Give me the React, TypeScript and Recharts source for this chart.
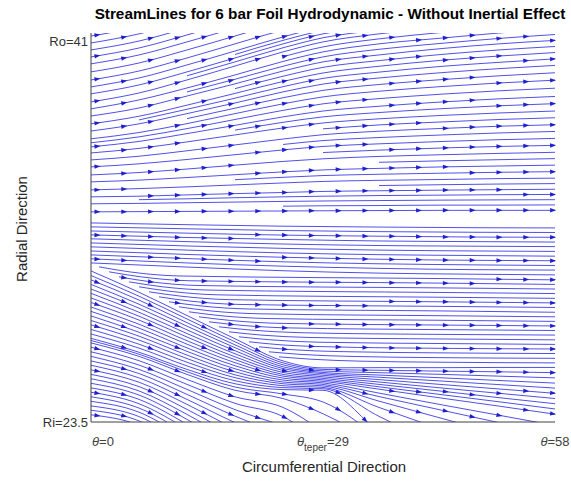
import { useEffect, useRef, useState } from "react";
import { Line, LineChart, XAxis, YAxis } from "recharts";

const W = 571;
const H = 482;
const FONT = "'Liberation Sans', Arial, Helvetica, sans-serif";
const LINE_BLUE = "#3d3de8";
const ARROW_BLUE = "#1f1fd0";

// axis limits (theta in deg, r between inner and outer radius)
const THETA_TICKS = [0, 29, 58];
const R_TICKS = [23.5, 41];
const R_DOMAIN: [number, number] = [23.5, 41.4];

// stations along theta shared by most stream families
const STATION_T = [0, 6, 12, 18, 24, 29, 36, 44, 51, 58];

// upper streamlines, seeded at theta = 0, rising toward Ro
const UPPER: (number | null)[][] = [
  [41.26, 41.68, 42.28, null, null, null, null, null, null, null],
  [40.94, 41.36, 41.95, 42.6, null, null, null, null, null, null],
  [40.62, 41.03, 41.63, 42.28, null, null, null, null, null, null],
  [40.3, 40.71, 41.31, 41.95, 42.6, null, null, null, null, null],
  [39.98, 40.39, 40.99, 41.63, 42.28, null, null, null, null, null],
  [39.61, 40.02, 40.62, 41.26, 41.91, 42.37, null, null, null, null],
  [39.24, 39.65, 40.25, 40.9, 41.54, 42.0, 42.37, null, null, null],
  [38.92, 39.33, 39.93, 40.57, 41.22, 41.68, 42.05, 42.37, null, null],
  [38.6, 39.01, 39.61, 40.25, 40.9, 41.36, 41.72, 42.05, 42.28, null],
  [38.23, 38.64, 39.24, 39.88, 40.53, 40.99, 41.36, 41.68, 41.91, 42.09],
  [37.91, 38.32, 38.87, 39.47, 40.09, 40.53, 40.9, 41.17, 41.4, 41.59],
  [37.58, 37.95, 38.5, 39.06, 39.65, 40.07, 40.39, 40.69, 40.9, 41.06],
  [37.22, 37.57, 38.08, 38.62, 39.17, 39.56, 39.87, 40.15, 40.34, 40.5],
  [36.89, 37.22, 37.69, 38.18, 38.69, 39.05, 39.33, 39.58, 39.76, 39.91],
  [36.53, 36.82, 37.23, 37.69, 38.14, 38.46, 38.72, 38.94, 39.1, 39.23],
  [36.16, 36.41, 36.77, 37.15, 37.54, 37.81, 38.03, 38.23, 38.37, 38.48],
  [35.88, 36.09, 36.39, 36.71, 37.03, 37.26, 37.45, 37.61, 37.72, 37.81],
  [35.56, 35.73, 35.98, 36.25, 36.52, 36.72, 36.88, 37.01, 37.11, 37.18],
  [35.24, 35.38, 35.58, 35.8, 36.02, 36.18, 36.3, 36.41, 36.49, 36.55],
  [34.87, 34.98, 35.14, 35.32, 35.49, 35.61, 35.72, 35.8, 35.86, 35.91],
  [34.55, 34.63, 34.75, 34.88, 35.01, 35.1, 35.17, 35.24, 35.28, 35.32],
  [34.18, 34.24, 34.32, 34.41, 34.5, 34.57, 34.62, 34.66, 34.7, 34.72],
  [33.86, 33.89, 33.95, 34.01, 34.06, 34.11, 34.14, 34.17, 34.19, 34.21],
  [33.54, 33.56, 33.59, 33.62, 33.65, 33.67, 33.69, 33.71, 33.72, 33.73],
  [33.17, 33.18, 33.19, 33.2, 33.21, 33.22, 33.23, 33.24, 33.24, 33.24],
];

// streamlines that start inside the upper region
const MIDFIELD: (number | null)[][] = [
  [null, null, null, 40.41, 41.06, 41.52, 41.89, 42.21, null, null],
  [null, null, 39.43, 40.07, 40.72, 41.18, 41.54, 41.87, 42.1, 42.25],
  [null, null, null, null, 40.31, 40.76, 41.13, 41.43, 41.66, 41.84],
  [null, null, 38.69, 39.27, 39.87, 40.3, 40.65, 40.93, 41.15, 41.33],
  [null, null, null, 38.84, 39.41, 39.82, 40.13, 40.42, 40.62, 40.78],
  [null, 37.4, 37.89, 38.4, 38.93, 39.31, 39.6, 39.87, 40.05, 40.21],
  [null, null, 37.46, 37.94, 38.42, 38.76, 39.03, 39.26, 39.43, 39.57],
  [36.35, 36.62, 37.0, 37.42, 37.84, 38.14, 38.38, 38.59, 38.74, 38.86],
  [null, null, null, 36.93, 37.29, 37.54, 37.74, 37.92, 38.05, 38.15],
  [null, null, null, null, null, 36.99, 37.17, 37.31, 37.42, 37.5],
  [null, null, null, null, 36.27, 36.45, 36.59, 36.71, 36.8, 36.87],
  [null, null, null, null, null, 35.9, 36.01, 36.11, 36.18, 36.23],
  [null, null, null, null, null, null, 35.45, 35.52, 35.57, 35.62],
  [null, null, null, 34.65, 34.76, 34.84, 34.9, 34.95, 34.99, 35.02],
  [null, null, null, null, null, null, 34.38, 34.42, 34.45, 34.47],
  [null, 33.73, 33.77, 33.82, 33.86, 33.89, 33.92, 33.94, 33.96, 33.97],
  [null, null, null, null, 33.43, 33.45, 33.46, 33.48, 33.48, 33.49],
];

// nearly flat lines just under the gap
const HORIZ_T = [0, 12, 24, 36, 48, 58];
const HORIZ: number[][] = [
  [32.66, 32.58, 32.51, 32.47, 32.44, 32.43],
  [32.48, 32.39, 32.31, 32.26, 32.23, 32.22],
  [32.29, 32.19, 32.1, 32.05, 32.01, 32.0],
  [32.11, 31.99, 31.9, 31.83, 31.8, 31.78],
  [31.93, 31.8, 31.69, 31.62, 31.59, 31.57],
  [31.74, 31.6, 31.49, 31.41, 31.37, 31.35],
  [31.56, 31.41, 31.28, 31.2, 31.16, 31.13],
  [31.37, 31.21, 31.08, 30.99, 30.94, 30.92],
  [31.19, 31.02, 30.87, 30.78, 30.73, 30.7],
  [31.01, 30.82, 30.67, 30.57, 30.51, 30.49],
  [30.82, 30.63, 30.46, 30.35, 30.3, 30.27],
];

// lines seeded along the diagonal separatrix, as [theta, r]
const DIAG: [number, number][][] = [
  [[1, 30.64], [5, 30.4], [11, 30.22], [44, 30.1], [58, 30.04]],
  [[2.25, 30.41], [6.25, 30.18], [12.25, 30.0], [44, 29.89], [58, 29.83]],
  [[3.5, 30.18], [7.5, 29.95], [13.5, 29.78], [44, 29.67], [58, 29.62]],
  [[4.75, 29.95], [8.75, 29.73], [14.75, 29.57], [44, 29.46], [58, 29.41]],
  [[6, 29.72], [10, 29.51], [16, 29.35], [44, 29.24], [58, 29.19]],
  [[7.25, 29.49], [11.25, 29.29], [17.25, 29.13], [44, 29.03], [58, 28.98]],
  [[8.5, 29.26], [12.5, 29.06], [18.5, 28.91], [44, 28.82], [58, 28.77]],
  [[9.75, 29.03], [13.75, 28.84], [19.75, 28.7], [44, 28.61], [58, 28.55]],
  [[11, 28.8], [15, 28.61], [21, 28.48], [44, 28.39], [58, 28.34]],
  [[12.25, 28.57], [16.25, 28.39], [22.25, 28.26], [44, 28.18], [58, 28.13]],
  [[13.5, 28.34], [17.5, 28.17], [23.5, 28.04], [44, 27.96], [58, 27.92]],
  [[14.75, 28.11], [18.75, 27.95], [24.75, 27.83], [44, 27.75], [58, 27.71]],
  [[16, 27.88], [20, 27.73], [26, 27.61], [44, 27.53], [58, 27.5]],
  [[17.25, 27.65], [21.25, 27.5], [27.25, 27.39], [44, 27.32], [58, 27.28]],
  [[18.5, 27.42], [22.5, 27.28], [28.5, 27.17], [44, 27.11], [58, 27.07]],
  [[19.75, 27.19], [23.75, 27.05], [29.75, 26.96], [44, 26.89], [58, 26.86]],
  [[21, 26.96], [25, 26.83], [31, 26.74], [44, 26.68], [58, 26.65]],
  [[22.25, 26.73], [26.25, 26.61], [32.25, 26.52], [44, 26.46], [58, 26.43]],
  [[23.5, 26.5], [27.5, 26.39], [33.5, 26.3], [44, 26.25], [58, 26.22]],
];

// lower lines squeezed near theta_teper, then fanning out toward Ri
const FAN: (number | null)[][] = [
  [30.45, 29.47, 28.4, 27.33, 26.31, 25.99, 26.0, 26.0, 26.01, 26.01],
  [30.24, 29.29, 28.24, 27.19, 26.22, 25.92, 25.88, 25.84, 25.81, 25.77],
  [30.04, 29.11, 28.07, 27.05, 26.13, 25.85, 25.77, 25.69, 25.61, 25.53],
  [29.83, 28.92, 27.91, 26.92, 26.04, 25.78, 25.66, 25.53, 25.41, 25.29],
  [29.62, 28.74, 27.74, 26.78, 25.96, 25.72, 25.56, 25.38, 25.22, 25.06],
  [29.42, 28.55, 27.57, 26.64, 25.87, 25.65, 25.45, 25.22, 25.02, 24.82],
  [29.21, 28.37, 27.41, 26.5, 25.78, 25.58, 25.34, 25.06, 24.82, 24.58],
  [29.0, 28.19, 27.24, 26.37, 25.69, 25.51, 25.23, 24.91, 24.62, 24.34],
  [28.79, 28.0, 27.08, 26.23, 25.61, 25.44, 25.12, 24.75, 24.43, 24.1],
  [28.59, 27.82, 26.91, 26.09, 25.52, 25.37, 25.01, 24.59, 24.23, 23.86],
  [28.38, 27.63, 26.75, 25.95, 25.43, 25.3, 24.83, 24.28, 23.81, 23.34],
  [28.17, 27.45, 26.58, 25.81, 25.34, 25.23, 24.67, 24.03, 23.47, 22.9],
  [27.97, 27.27, 26.42, 25.67, 25.26, 25.16, 24.46, 23.65, 22.95, 22.25],
  [27.76, 27.08, 26.25, 25.54, 25.17, 25.09, 24.17, 23.13, 22.21, null],
  [27.55, 26.9, 26.08, 25.4, 25.08, 25.03, 23.76, 22.31, null, null],
  [27.35, 26.71, 25.92, 25.26, 24.99, 24.96, 23.03, 20.82, null, null],
];

// arcs in the lower-left corner that leave through Ri
const ARCS: (number | null)[][] = [
  [27.25, 26.62, 25.81, 25.11, 24.79, 24.42, 22.74, null, null, null],
  [27.14, 26.52, 25.69, 24.96, 24.58, 23.88, 22.45, null, null, null],
  [26.94, 26.32, 25.46, 24.66, 24.17, 23.05, null, null, null, null],
  [26.73, 26.12, 25.23, 24.36, 23.75, 22.45, null, null, null, null],
  [26.52, 25.92, 25.0, 24.07, 23.34, null, null, null, null, null],
  [26.31, 25.73, 24.77, 23.77, 22.92, null, null, null, null, null],
  [26.11, 25.53, 24.54, 23.47, 22.54, null, null, null, null, null],
  [25.9, 25.33, 24.31, 23.17, null, null, null, null, null, null],
  [25.69, 25.13, 24.08, 22.86, null, null, null, null, null, null],
  [25.49, 24.93, 23.85, 22.57, null, null, null, null, null, null],
  [25.28, 24.74, 23.62, 22.27, null, null, null, null, null, null],
  [25.07, 24.54, 23.39, 21.99, null, null, null, null, null, null],
  [24.87, 24.34, 23.16, null, null, null, null, null, null, null],
  [24.66, 24.14, 22.93, null, null, null, null, null, null, null],
  [24.45, 23.95, 22.7, null, null, null, null, null, null, null],
  [24.24, 23.75, 22.47, null, null, null, null, null, null, null],
  [24.04, 23.55, 22.24, null, null, null, null, null, null, null],
  [23.83, 23.35, 22.04, null, null, null, null, null, null, null],
];

type Pt = { t: number; r: number };

function fromStations(ts: number[], rows: (number | null)[][]): Pt[][] {
  return rows.map((row) =>
    row.flatMap((r, i) => (r == null ? [] : [{ t: ts[i], r }]))
  );
}

function fromPairs(rows: [number, number][][]): Pt[][] {
  return rows.map((row) => row.map(([t, r]) => ({ t, r })));
}

const STREAMS: Pt[][] = [
  ...fromStations(STATION_T, UPPER),
  ...fromStations(STATION_T, MIDFIELD),
  ...fromStations(HORIZ_T, HORIZ),
  ...fromPairs(DIAG),
  ...fromStations(STATION_T, FAN),
  ...fromStations(STATION_T, ARCS),
];

// arrowhead grid (pixels), snapped onto the drawn streamlines
const PLOT_TOP = 33;
const PLOT_BOTTOM = 422;
const COL0 = 97;
const COL_STEP = 26.8;
const N_COLS = 18;
const ROW0 = 36;
const ROW_STEP = 22.3;
const N_ROWS = 18;

type Arrow = { x: number; y: number; a: number };
type Hit = { y: number; a: number; used: boolean };

function ThetaTick(props: any) {
  const { x, payload } = props;
  const v = payload.value;
  const base = 446;
  if (v === 29) {
    return (
      <text x={x} y={base} textAnchor="middle" fontSize={13} fill="#404040" fontFamily={FONT}>
        <tspan fontStyle="italic">θ</tspan>
        <tspan fontSize={10} dy={5}>teper</tspan>
        <tspan dy={-5}>=29</tspan>
      </text>
    );
  }
  return (
    <text
      x={v === 0 ? x + 1 : x}
      y={base}
      textAnchor={v === 0 ? "start" : "middle"}
      fontSize={13}
      fill="#404040"
      fontFamily={FONT}
    >
      <tspan fontStyle="italic">θ</tspan>
      <tspan>={v}</tspan>
    </text>
  );
}

function RadiusTick(props: any) {
  const { y, payload } = props;
  const label = payload.value === 41 ? "Ro=41" : "Ri=23.5";
  return (
    <text x={88} y={y + 4.5} textAnchor="end" fontSize={13} fill="#333" fontFamily={FONT}>
      {label}
    </text>
  );
}

export default function App() {
  const wrapRef = useRef<HTMLDivElement>(null);
  const [arrows, setArrows] = useState<Arrow[]>([]);

  useEffect(() => {
    let frame = 0;
    let tries = 0;
    const place = () => {
      const host = wrapRef.current;
      const paths = host
        ? Array.from(host.querySelectorAll<SVGPathElement>("path.recharts-line-curve"))
        : [];
      if (paths.length < STREAMS.length && tries++ < 300) {
        frame = requestAnimationFrame(place);
        return;
      }
      const cols = Array.from({ length: N_COLS }, (_, i) => COL0 + i * COL_STEP);
      const hits: Hit[][] = cols.map(() => []);
      paths.forEach((p) => {
        const len = p.getTotalLength();
        let prev = p.getPointAtLength(0);
        for (let s = 1.5; s < len + 1.5; s += 1.5) {
          const cur = p.getPointAtLength(Math.min(s, len));
          if (cur.x !== prev.x) {
            cols.forEach((cx, i) => {
              if ((prev.x - cx) * (cur.x - cx) <= 0) {
                const k = (cx - prev.x) / (cur.x - prev.x);
                const y = prev.y + k * (cur.y - prev.y);
                if (y > PLOT_TOP + 2 && y < PLOT_BOTTOM - 2) {
                  hits[i].push({ y, a: Math.atan2(cur.y - prev.y, cur.x - prev.x), used: false });
                }
              }
            });
          }
          prev = cur;
        }
      });
      const out: Arrow[] = [];
      cols.forEach((cx, i) => {
        for (let j = 0; j < N_ROWS; j++) {
          const ry = ROW0 + j * ROW_STEP;
          let best: Hit | null = null;
          for (const h of hits[i]) {
            if (h.used) continue;
            if (!best || Math.abs(h.y - ry) < Math.abs(best.y - ry)) best = h;
          }
          if (best && Math.abs(best.y - ry) < 10) {
            best.used = true;
            out.push({ x: cx, y: best.y, a: best.a });
          }
        }
      });
      setArrows(out);
    };
    frame = requestAnimationFrame(place);
    return () => cancelAnimationFrame(frame);
  }, []);

  return (
    <div
      ref={wrapRef}
      style={{
        position: "absolute",
        left: 0,
        top: 0,
        width: W,
        height: H,
        background: "#fff",
        fontFamily: FONT,
      }}
    >
      <LineChart width={W} height={H} margin={{ top: 33, right: 16, bottom: 0, left: 0 }}>
        <XAxis
          type="number"
          dataKey="t"
          domain={[0, 58]}
          ticks={THETA_TICKS}
          allowDataOverflow
          tick={ThetaTick}
          tickLine={false}
          axisLine={{ stroke: "#404040" }}
          height={60}
        />
        <YAxis
          type="number"
          domain={R_DOMAIN}
          ticks={R_TICKS}
          allowDataOverflow
          tick={RadiusTick}
          tickLine={false}
          axisLine={{ stroke: "#404040" }}
          width={91}
        />
        {STREAMS.map((pts, i) => (
          <Line
            key={i}
            data={pts}
            dataKey="r"
            type="monotone"
            stroke={LINE_BLUE}
            strokeWidth={1}
            strokeOpacity={0.9}
            dot={false}
            activeDot={false}
            isAnimationActive={false}
          />
        ))}
      </LineChart>
      <svg
        width={W}
        height={H}
        style={{ position: "absolute", left: 0, top: 0, pointerEvents: "none" }}
      >
        <text x={330} y={19} textAnchor="middle" fontSize={15.3} fontWeight="bold" fill="#000">
          StreamLines for 6 bar Foil Hydrodynamic - Without Inertial Effect
        </text>
        <text x={324} y={472} textAnchor="middle" fontSize={15} fill="#262626">
          Circumferential Direction
        </text>
        <text
          x={0}
          y={0}
          transform="translate(27 229) rotate(-90)"
          textAnchor="middle"
          fontSize={15}
          fill="#262626"
        >
          Radial Direction
        </text>
        {arrows.map((ar, i) => (
          <polygon
            key={i}
            points="3.5,0 -2.5,-2.2 -2.5,2.2"
            fill={ARROW_BLUE}
            transform={`translate(${ar.x.toFixed(1)} ${ar.y.toFixed(1)}) rotate(${((ar.a * 180) / Math.PI).toFixed(1)})`}
          />
        ))}
      </svg>
    </div>
  );
}
